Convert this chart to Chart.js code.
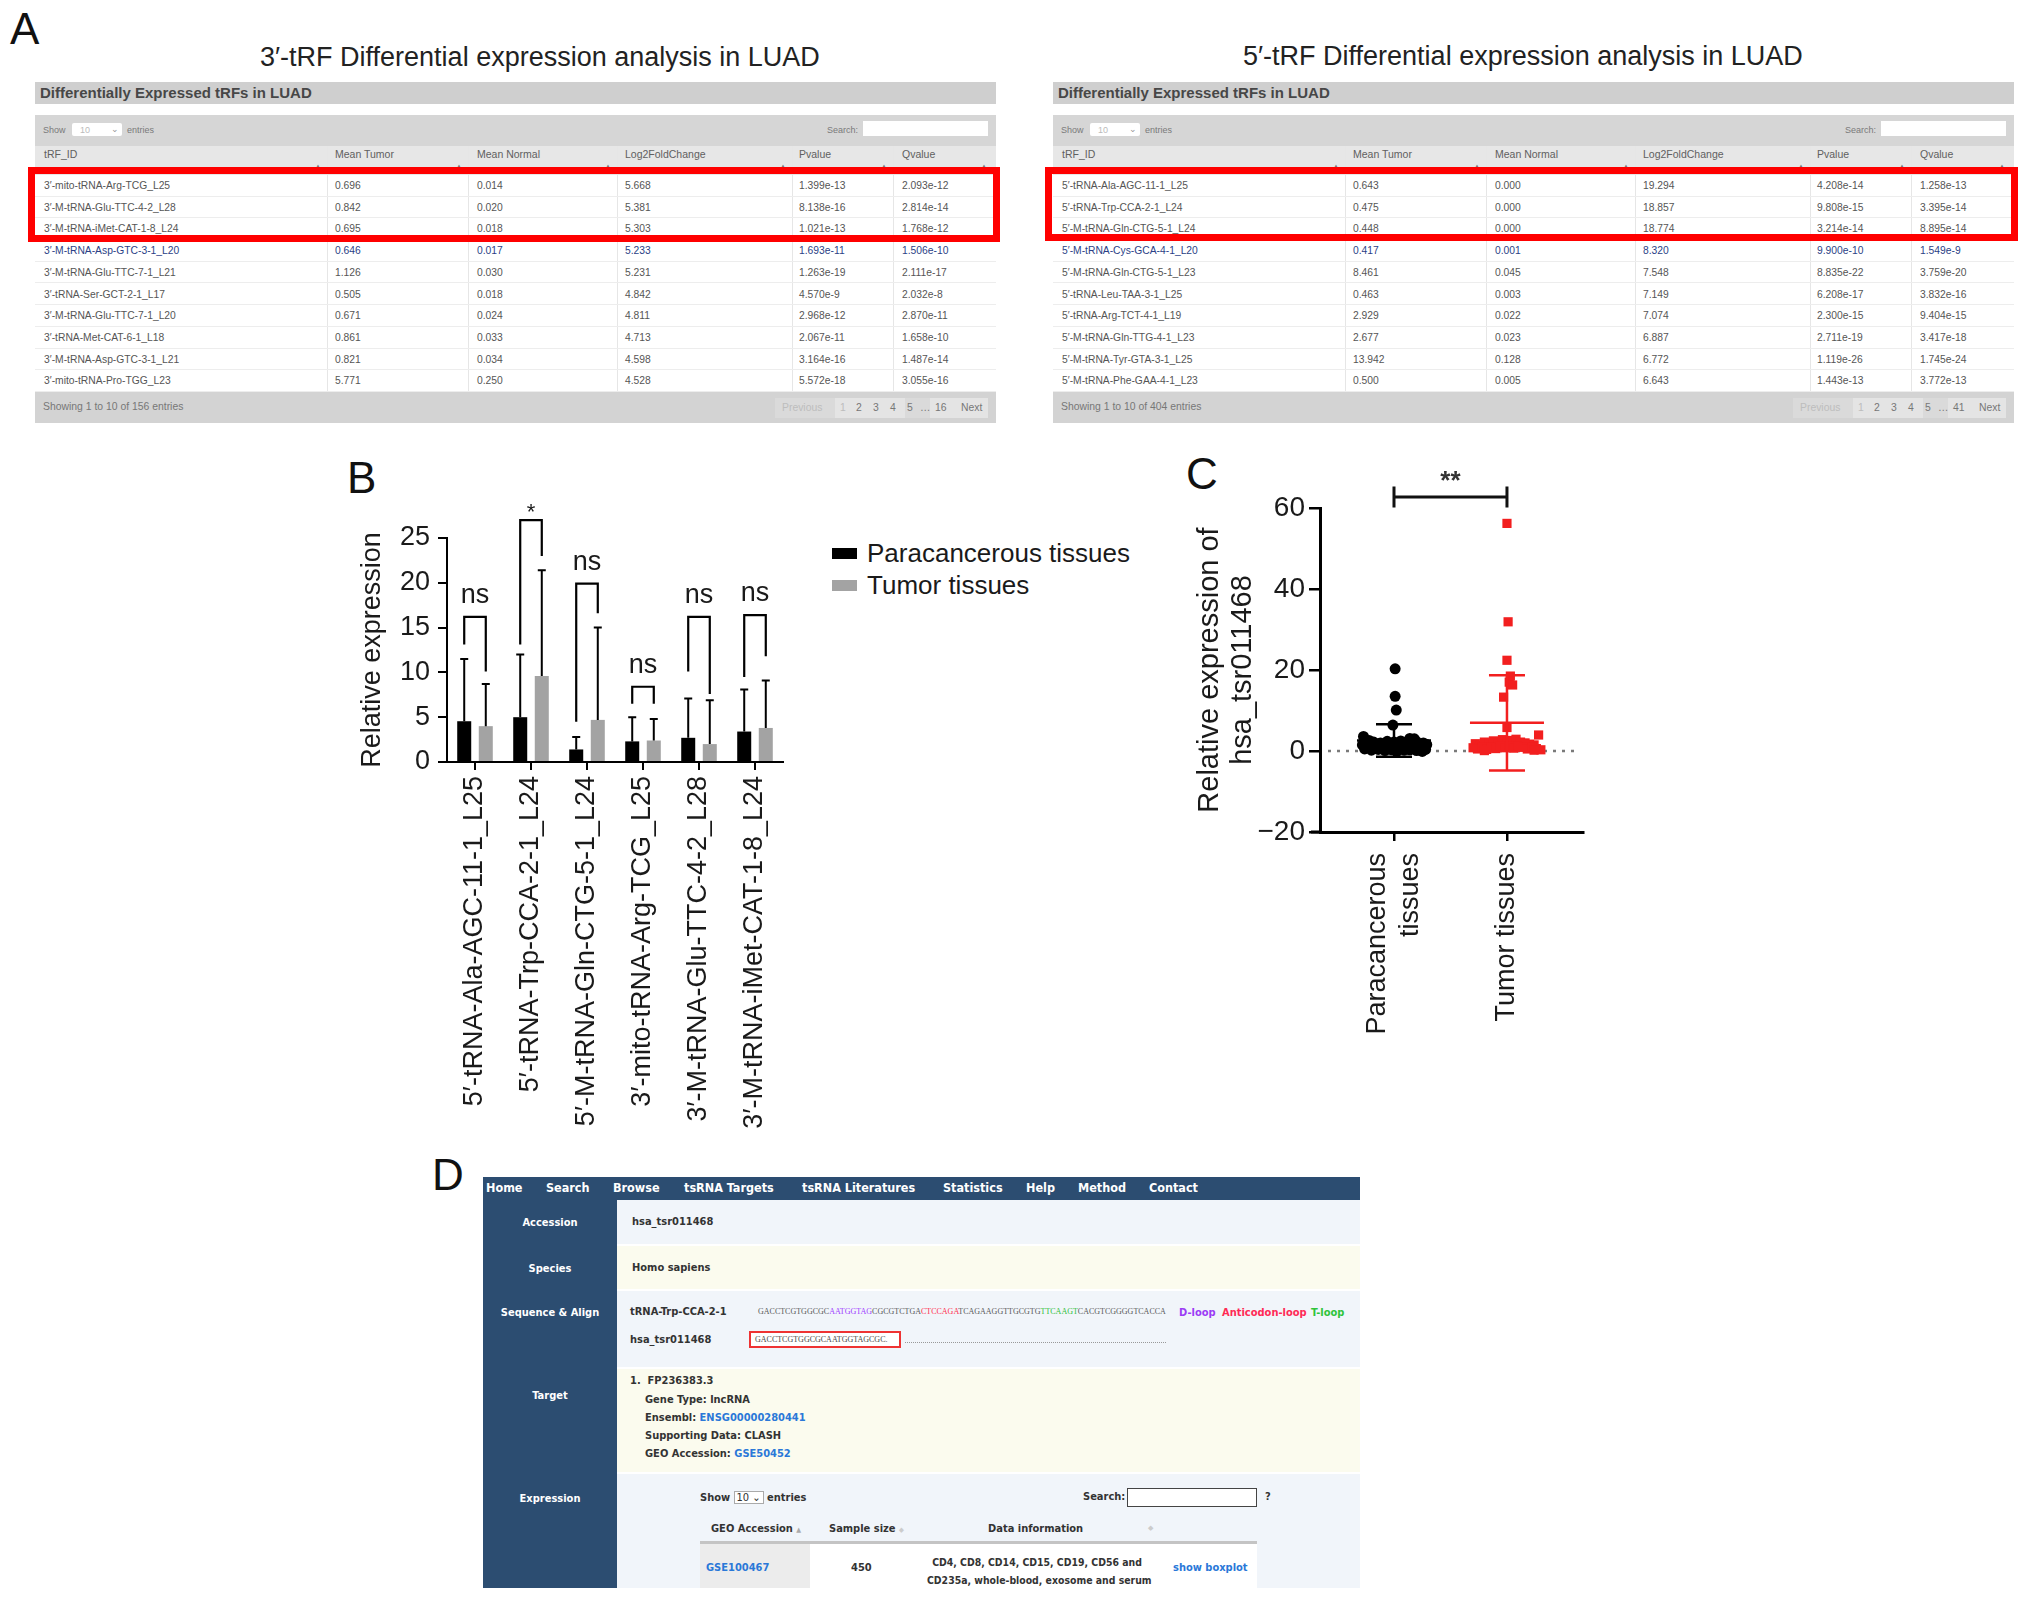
<!DOCTYPE html>
<html>
<head>
<meta charset="utf-8">
<script src="https://cdn.jsdelivr.net/npm/chart.js@4.4.1/dist/chart.umd.min.js"></script>
<style>
html, body { margin: 0; padding: 0; background: #fff; }
#page { position: relative; width: 2032px; height: 1601px; overflow: hidden; font-family: 'Liberation Sans', Arial, sans-serif; color: #1a1a1a; }
.abs { position: absolute; white-space: nowrap; line-height: 1; }
.letter { font-size: 44px; color: #111; }
.ptitle { font-size: 27px; color: #222; }
.tbl { position: absolute; top: 82px; width: 961px; height: 341px; color: #505050; }
.tb-title { position: absolute; left: 0; top: 0; width: 100%; height: 22px; background: #cfcfcf; font-weight: bold; font-size: 15px; color: #474747; line-height: 22px; text-indent: 5px; }
.tb-ctrl { position: absolute; left: 0; top: 33px; width: 100%; height: 31px; background: #d6d6d6; font-size: 9px; color: #7a7a7a; }
.tb-head { position: absolute; left: 0; top: 64px; width: 100%; height: 29px; background: #e7e7e7; font-size: 10.5px; color: #606060; }
.tb-body { position: absolute; left: 0; top: 93px; width: 100%; height: 217px; background: #fff; }
.tb-foot { position: absolute; left: 0; top: 310px; width: 100%; height: 31px; background: #d3d3d3; font-size: 10.4px; color: #777; }
.row { position: absolute; left: 0; width: 100%; height: 21.7px; border-bottom: 1px solid #ededed; box-sizing: border-box; font-size: 10.3px; color: #555; }
.row.hov { color: #2b3f86; }
.c { position: absolute; white-space: nowrap; line-height: 1; }
.vsep { position: absolute; top: -29px; width: 1px; height: 246px; background: #e6e6e6; }
.redbox { position: absolute; border: 7px solid #ff0000; box-sizing: border-box; }
.dk { font-family: 'DejaVu Sans Condensed', 'DejaVu Sans', sans-serif; font-stretch: condensed; font-weight: bold; }
.nav { color: #fff; font-size: 12.5px; }
.side { color: #fff; font-size: 11px; width: 134px; text-align: center; left: 483px; }
.dtx { font-size: 11px; color: #333; }
.lnk { color: #2a78d8; }
.seq { font-family: 'Liberation Serif', serif; font-size: 8px; }
</style>
</head>
<body>
<div id="page">
  <div class="abs letter" style="left:10px;top:7px">A</div>
  <div class="abs ptitle" style="left:260px;top:44px">3′-tRF Differential expression analysis in LUAD</div>
  <div class="abs ptitle" style="left:1243px;top:43px">5′-tRF Differential expression analysis in LUAD</div>

  <div class="abs letter" style="left:347px;top:456px">B</div>
  <canvas id="chartB" width="460" height="660" style="position:absolute;left:340px;top:480px"></canvas>

  <div class="abs letter" style="left:1186px;top:452px">C</div>
  <canvas id="chartC" width="420" height="600" style="position:absolute;left:1186px;top:460px"></canvas>

  <div class="abs letter" style="left:432px;top:1153px">D</div>
  <div id="panelD"></div>
</div>

<script>
// ---------- panel A tables
const leftIds = ["3′-mito-tRNA-Arg-TCG_L25", "3′-M-tRNA-Glu-TTC-4-2_L28", "3′-M-tRNA-iMet-CAT-1-8_L24", "3′-M-tRNA-Asp-GTC-3-1_L20", "3′-M-tRNA-Glu-TTC-7-1_L21", "3′-tRNA-Ser-GCT-2-1_L17", "3′-M-tRNA-Glu-TTC-7-1_L20", "3′-tRNA-Met-CAT-6-1_L18", "3′-M-tRNA-Asp-GTC-3-1_L21", "3′-mito-tRNA-Pro-TGG_L23"];
const leftMeanTumor = ["0.696", "0.842", "0.695", "0.646", "1.126", "0.505", "0.671", "0.861", "0.821", "5.771"];
const leftMeanNormal = ["0.014", "0.020", "0.018", "0.017", "0.030", "0.018", "0.024", "0.033", "0.034", "0.250"];
const leftLog2FC = ["5.668", "5.381", "5.303", "5.233", "5.231", "4.842", "4.811", "4.713", "4.598", "4.528"];
const leftPvalue = ["1.399e-13", "8.138e-16", "1.021e-13", "1.693e-11", "1.263e-19", "4.570e-9", "2.968e-12", "2.067e-11", "3.164e-16", "5.572e-18"];
const leftQvalue = ["2.093e-12", "2.814e-14", "1.768e-12", "1.506e-10", "2.111e-17", "2.032e-8", "2.870e-11", "1.658e-10", "1.487e-14", "3.055e-16"];

const rightIds = ["5′-tRNA-Ala-AGC-11-1_L25", "5′-tRNA-Trp-CCA-2-1_L24", "5′-M-tRNA-Gln-CTG-5-1_L24", "5′-M-tRNA-Cys-GCA-4-1_L20", "5′-M-tRNA-Gln-CTG-5-1_L23", "5′-tRNA-Leu-TAA-3-1_L25", "5′-tRNA-Arg-TCT-4-1_L19", "5′-M-tRNA-Gln-TTG-4-1_L23", "5′-M-tRNA-Tyr-GTA-3-1_L25", "5′-M-tRNA-Phe-GAA-4-1_L23"];
const rightMeanTumor = ["0.643", "0.475", "0.448", "0.417", "8.461", "0.463", "2.929", "2.677", "13.942", "0.500"];
const rightMeanNormal = ["0.000", "0.000", "0.000", "0.001", "0.045", "0.003", "0.022", "0.023", "0.128", "0.005"];
const rightLog2FC = ["19.294", "18.857", "18.774", "8.320", "7.548", "7.149", "7.074", "6.887", "6.772", "6.643"];
const rightPvalue = ["4.208e-14", "9.808e-15", "3.214e-14", "9.900e-10", "8.835e-22", "6.208e-17", "2.300e-15", "2.711e-19", "1.119e-26", "1.443e-13"];
const rightQvalue = ["1.258e-13", "3.395e-14", "8.895e-14", "1.549e-9", "3.759e-20", "3.832e-16", "9.404e-15", "3.417e-18", "1.745e-24", "3.772e-13"];

// ---------- panel B data
const bLabels = ["5′-tRNA-Ala-AGC-11-1_L25", "5′-tRNA-Trp-CCA-2-1_L24", "5′-M-tRNA-Gln-CTG-5-1_L24", "3′-mito-tRNA-Arg-TCG_L25", "3′-M-tRNA-Glu-TTC-4-2_L28", "3′-M-tRNA-iMet-CAT-1-8_L24"];
const paraMean = [4.55, 5.0, 1.4, 2.3, 2.7, 3.4];
const paraTop = [11.5, 12.0, 2.8, 5.0, 7.1, 8.1];
const tumorMean = [4.0, 9.6, 4.7, 2.4, 2.0, 3.8];
const tumorTop = [8.7, 21.4, 15.0, 4.8, 6.9, 9.1];
const sigText = ["ns", "*", "ns", "ns", "ns", "ns"];
const bracketTop = [16.2, 27.0, 19.9, 8.4, 16.2, 16.4];
const bracketLeftEnd = [13.1, 13.1, 4.5, 6.5, 10.1, 9.5];
const bracketRightEnd = [10.1, 23.0, 16.6, 6.5, 7.6, 11.8];

// ---------- panel C data
const cLabels = [["Paracancerous", "tissues"], ["Tumor tissues"]];
const paraOffsets = [0.01, 0.01, 0.02, -0.01, -0.27, 0.14, 0.18, -0.22, -0.18, -0.12, -0.06, 0.0, 0.06, 0.1, 0.2, 0.26, 0.29, -0.28, -0.24, -0.2, -0.15, -0.1, -0.05, 0.0, 0.04, 0.08, 0.12, 0.16, 0.2, 0.24, 0.28, -0.26, -0.2, -0.14, -0.08, -0.02, 0.03, 0.09, 0.14, 0.2, 0.25];
const paraValues = [20.3, 13.5, 10.1, 6.4, 3.6, 3.1, 3.0, 2.6, 2.2, 2.0, 2.4, 2.2, 2.5, 2.1, 2.3, 2.0, 1.6, 1.5, 1.2, 0.9, 1.4, 1.0, 0.7, 1.3, 0.9, 1.5, 1.0, 0.6, 1.2, 0.8, 0.4, 0.5, 0.2, 0.4, 0.1, 0.3, 0.0, 0.2, 0.3, 0.1, -0.1];
const tumorOffsets = [0.0, 0.01, 0.0, 0.03, 0.02, 0.05, -0.03, 0.0, 0.28, -0.28, -0.24, -0.2, -0.16, -0.12, -0.08, -0.04, 0.0, 0.04, 0.08, 0.12, 0.16, 0.2, 0.24, -0.3, -0.26, -0.22, -0.18, -0.14, -0.1, -0.06, -0.02, 0.02, 0.06, 0.1, 0.14, 0.18, 0.22, 0.26, 0.3, 0.24, -0.2];
const tumorValues = [56.2, 31.9, 22.4, 18.5, 17.0, 16.3, 13.3, 5.8, 3.95, 1.8, 1.4, 2.2, 1.9, 2.5, 2.0, 2.8, 2.3, 2.6, 2.9, 2.2, 2.0, 1.7, 1.5, 0.8, 0.5, 0.9, 0.4, 1.0, 0.6, 1.2, 0.8, 1.1, 0.7, 1.3, 0.9, 0.5, 1.0, 0.6, 0.3, 0.2, 0.1];
const cGroupX = [0, 1];
const cMean = [2.6, 7.0];
const cUpper = [6.6, 18.7];
const cLower = [-1.4, -4.8];
const cSig = [62.7, 2.6]; // bracket level, half height of end bars
const cColors = ['#000000', '#f21f1f'];

Chart.defaults.font.family = "'Liberation Sans', Arial, sans-serif";
Chart.defaults.color = '#1a1a1a';

function buildTable(left, ids, meanT, meanN, lfc, pv, qv, total, lastPage) {
	const colX = [9, 300, 442, 590, 764, 867];
	const sepX = [292, 433, 582, 757, 858];
	const heads = ['tRF_ID', 'Mean Tumor', 'Mean Normal', 'Log2FoldChange', 'Pvalue', 'Qvalue'];
	const arrowX = [280, 421, 570, 745, 846, 946];
	let h = '<div class="tb-title">Differentially Expressed tRFs in LUAD</div>';
	h += '<div class="tb-ctrl">'
		+ '<span class="c" style="left:8px;top:11px">Show</span>'
		+ '<div class="c" style="left:37px;top:8px;width:50px;height:13px;background:#fff;border-radius:2px"></div>'
		+ '<span class="c" style="left:45px;top:11px;color:#bbb">10</span>'
		+ '<span class="c" style="left:76px;top:10px;color:#999">⌄</span>'
		+ '<span class="c" style="left:92px;top:11px">entries</span>'
		+ '<span class="c" style="left:792px;top:11px">Search:</span>'
		+ '<div class="c" style="left:828px;top:6px;width:125px;height:15px;background:#fff"></div>'
		+ '</div>';
	h += '<div class="tb-head">';
	heads.forEach((t, i) => {
		h += `<span class="c" style="left:${colX[i]}px;top:3px">${t}</span>`;
		h += `<span class="c" style="left:${arrowX[i]}px;top:17px;font-size:6px;color:#777">▲</span>`;
	});
	h += '</div><div class="tb-body">';
	sepX.forEach(x => { h += `<div class="vsep" style="left:${x}px"></div>`; });
	for (let r = 0; r < ids.length; r++) {
		const cells = [ids[r], meanT[r], meanN[r], lfc[r], pv[r], qv[r]];
		h += `<div class="row${r === 3 ? ' hov' : ''}" style="top:${(r * 21.7).toFixed(1)}px">`;
		cells.forEach((c, i) => { h += `<span class="c" style="left:${colX[i]}px;top:6px">${c}</span>`; });
		h += '</div>';
	}
	h += '</div><div class="tb-foot">'
		+ `<span class="c" style="left:8px;top:10px">Showing 1 to 10 of ${total} entries</span>`
		+ '<div class="c" style="left:740px;top:6px;width:213px;height:20px;background:#dadada"></div>'
		+ '<div class="c" style="left:800px;top:6px;width:70px;height:20px;background:#e4e4e4"></div>'
		+ '<div class="c" style="left:895px;top:6px;width:58px;height:20px;background:#e4e4e4"></div>'
		+ '<span class="c" style="left:747px;top:11px;color:#bdbdbd">Previous</span>'
		+ '<span class="c" style="left:805px;top:11px;color:#bdbdbd">1</span>'
		+ '<span class="c" style="left:821px;top:11px">2</span>'
		+ '<span class="c" style="left:838px;top:11px">3</span>'
		+ '<span class="c" style="left:855px;top:11px">4</span>'
		+ '<span class="c" style="left:872px;top:11px">5</span>'
		+ '<span class="c" style="left:885px;top:11px">…</span>'
		+ `<span class="c" style="left:900px;top:11px">${lastPage}</span>`
		+ '<span class="c" style="left:926px;top:11px">Next</span>'
		+ '</div>';
	const t = document.createElement('div');
	t.className = 'tbl';
	t.style.left = left + 'px';
	t.innerHTML = h;
	window.page.appendChild(t);
}

function addRedBox(x, y, w, hgt) {
	const b = document.createElement('div');
	b.className = 'redbox';
	b.style.cssText = `left:${x}px;top:${y}px;width:${w}px;height:${hgt}px`;
	window.page.appendChild(b);
}

buildTable(35, leftIds, leftMeanTumor, leftMeanNormal, leftLog2FC, leftPvalue, leftQvalue, 156, 16);
buildTable(1053, rightIds, rightMeanTumor, rightMeanNormal, rightLog2FC, rightPvalue, rightQvalue, 404, 41);
addRedBox(28, 167, 972, 75);
addRedBox(1045, 167, 973, 74);

// ---------- panel B
const bExtras = {
	id: 'bExtras',
	afterDatasetsDraw(chart) {
		const ctx = chart.ctx;
		const y = chart.scales.y;
		const m0 = chart.getDatasetMeta(0).data;
		const m1 = chart.getDatasetMeta(1).data;
		ctx.save();
		ctx.strokeStyle = '#000';
		ctx.lineWidth = 2;
		[[m0, paraTop], [m1, tumorTop]].forEach(([bars, tops]) => {
			bars.forEach((bar, i) => {
				const t = y.getPixelForValue(tops[i]);
				ctx.beginPath();
				ctx.moveTo(bar.x, bar.y);
				ctx.lineTo(bar.x, t);
				ctx.moveTo(bar.x - 4, t);
				ctx.lineTo(bar.x + 4, t);
				ctx.stroke();
			});
		});
		ctx.lineWidth = 2.2;
		ctx.fillStyle = '#1a1a1a';
		ctx.textAlign = 'center';
		for (let i = 0; i < bLabels.length; i++) {
			const xl = m0[i].x, xr = m1[i].x;
			const yt = y.getPixelForValue(bracketTop[i]);
			ctx.beginPath();
			ctx.moveTo(xl, y.getPixelForValue(bracketLeftEnd[i]));
			ctx.lineTo(xl, yt);
			ctx.lineTo(xr, yt);
			ctx.lineTo(xr, y.getPixelForValue(bracketRightEnd[i]));
			ctx.stroke();
			if (sigText[i] === '*') {
				ctx.font = "22px 'Liberation Sans', Arial";
				ctx.fillText(sigText[i], (xl + xr) / 2, yt - 1);
			} else {
				ctx.font = "27px 'Liberation Sans', Arial";
				ctx.fillText(sigText[i], (xl + xr) / 2, yt - 14);
			}
		}
		ctx.restore();
	}
};

const chartB = new Chart(document.getElementById('chartB'), {
	type: 'bar',
	data: {
		labels: bLabels,
		datasets: [
			{ label: 'Paracancerous tissues', data: paraMean, backgroundColor: '#000000', barPercentage: 0.65, categoryPercentage: 0.77 },
			{ label: 'Tumor tissues', data: tumorMean, backgroundColor: '#a3a3a3', barPercentage: 0.65, categoryPercentage: 0.77 }
		]
	},
	options: {
		responsive: false,
		animation: false,
		layout: { padding: { top: 58, right: 17, left: 0, bottom: 0 } },
		plugins: { legend: { display: false }, tooltip: { enabled: false } },
		scales: {
			x: {
				offset: true,
				grid: { drawOnChartArea: false, offset: false, tickLength: 8, color: '#000', lineWidth: 2 },
				border: { color: '#000', width: 2 },
				ticks: { font: { size: 27 }, color: '#1a1a1a', minRotation: 90, maxRotation: 90, padding: 6, autoSkip: false },
				afterFit(s) { s.height = 378; }
			},
			y: {
				min: 0, max: 25,
				ticks: { stepSize: 5, font: { size: 27 }, color: '#1a1a1a', padding: 8 },
				grid: { drawOnChartArea: false, tickLength: 9, color: '#000', lineWidth: 2 },
				border: { color: '#000', width: 2 },
				title: { display: true, text: 'Relative expression', font: { size: 27 }, color: '#1a1a1a', padding: { top: 16 } },
				afterFit(s) { s.width = 107; }
			}
		}
	},
	plugins: [bExtras]
});

// legend for B, built from the chart's own datasets
chartB.data.datasets.forEach((ds, i) => {
	const box = document.createElement('div');
	box.className = 'abs';
	box.style.cssText = `left:832px;top:${548 + i * 32}px;width:25px;height:11px;background:${ds.backgroundColor}`;
	window.page.appendChild(box);
	const txt = document.createElement('div');
	txt.className = 'abs';
	txt.style.cssText = `left:867px;top:${540 + i * 32}px;font-size:26px;color:#1a1a1a`;
	txt.textContent = ds.label;
	window.page.appendChild(txt);
});

// ---------- panel C
const cExtras = {
	id: 'cExtras',
	beforeDatasetsDraw(chart) {
		const { ctx, chartArea: a, scales: { y } } = chart;
		const y0 = y.getPixelForValue(0);
		ctx.save();
		ctx.strokeStyle = '#7a7a7a';
		ctx.lineWidth = 2.5;
		ctx.setLineDash([3, 6]);
		ctx.beginPath();
		ctx.moveTo(a.left + 8, y0);
		ctx.lineTo(a.right - 4, y0);
		ctx.stroke();
		ctx.restore();
	},
	afterDatasetsDraw(chart) {
		const { ctx, scales: { x, y } } = chart;
		ctx.save();
		ctx.lineWidth = 2.5;
		cGroupX.forEach((gx, i) => {
			const px = x.getPixelForValue(gx);
			const yu = y.getPixelForValue(cUpper[i]);
			const yl = y.getPixelForValue(cLower[i]);
			const ym = y.getPixelForValue(cMean[i]);
			ctx.strokeStyle = cColors[i];
			ctx.beginPath();
			ctx.moveTo(px, yu); ctx.lineTo(px, yl);
			ctx.moveTo(px - 18, yu); ctx.lineTo(px + 18, yu);
			ctx.moveTo(px - 18, yl); ctx.lineTo(px + 18, yl);
			ctx.moveTo(px - 37, ym); ctx.lineTo(px + 37, ym);
			ctx.stroke();
		});
		const x0 = x.getPixelForValue(cGroupX[0]);
		const x1 = x.getPixelForValue(cGroupX[1]);
		const ys = y.getPixelForValue(cSig[0]);
		const ya = y.getPixelForValue(cSig[0] + cSig[1]);
		const yb = y.getPixelForValue(cSig[0] - cSig[1]);
		ctx.strokeStyle = '#111';
		ctx.lineWidth = 3;
		ctx.beginPath();
		ctx.moveTo(x0, ys); ctx.lineTo(x1, ys);
		ctx.moveTo(x0, ya); ctx.lineTo(x0, yb);
		ctx.moveTo(x1, ya); ctx.lineTo(x1, yb);
		ctx.stroke();
		ctx.fillStyle = '#333';
		ctx.font = "bold 26px 'Liberation Sans', Arial";
		ctx.textAlign = 'center';
		ctx.fillText('**', (x0 + x1) / 2, ya + 2);
		ctx.restore();
	},
	afterDraw(chart) {
		// category labels, rotated, lines centred on each tick
		const { ctx, chartArea: a, scales: { x } } = chart;
		ctx.save();
		ctx.font = "27px 'Liberation Sans', Arial";
		ctx.fillStyle = '#1a1a1a';
		ctx.textAlign = 'right';
		ctx.textBaseline = 'middle';
		// short stub of the x axis left of the y axis
		ctx.strokeStyle = '#000';
		ctx.lineWidth = 3;
		ctx.beginPath();
		ctx.moveTo(a.left - 9, a.bottom);
		ctx.lineTo(a.left, a.bottom);
		ctx.stroke();
		cGroupX.forEach((gx, i) => {
			const px = x.getPixelForValue(gx);
			const lines = cLabels[i];
			lines.forEach((t, j) => {
				const cx = px + (j - (lines.length - 1) / 2) * 33;
				ctx.save();
				ctx.translate(cx, a.bottom + 21);
				ctx.rotate(-Math.PI / 2);
				ctx.fillText(t, 0, 0);
				ctx.restore();
			});
		});
		ctx.restore();
	}
};

new Chart(document.getElementById('chartC'), {
	type: 'scatter',
	data: {
		datasets: [
			{
				label: 'Paracancerous tissues',
				data: paraValues.map((v, i) => ({ x: cGroupX[0] + paraOffsets[i], y: v })),
				pointStyle: 'circle', pointRadius: 5.5, backgroundColor: cColors[0], borderWidth: 0
			},
			{
				label: 'Tumor tissues',
				data: tumorValues.map((v, i) => ({ x: cGroupX[1] + tumorOffsets[i], y: v })),
				pointStyle: 'rect', pointRadius: 6.5, backgroundColor: cColors[1], borderWidth: 0
			}
		]
	},
	options: {
		responsive: false,
		animation: false,
		layout: { padding: { top: 48, right: 23, left: 0, bottom: 0 } },
		plugins: { legend: { display: false }, tooltip: { enabled: false } },
		scales: {
			x: {
				type: 'linear', min: -0.655, max: 1.673,
				afterBuildTicks(s) { s.ticks = cGroupX.map(v => ({ value: v })); },
				grid: { drawOnChartArea: false, tickLength: 9, color: '#000', lineWidth: 2.5 },
				border: { color: '#000', width: 3 },
				ticks: { display: false },
				afterFit(s) { s.height = 228; }
			},
			y: {
				min: -20, max: 60,
				ticks: { stepSize: 20, font: { size: 28 }, color: '#1a1a1a', padding: 4, callback: v => String(v).replace('-', '−') },
				grid: { drawOnChartArea: false, tickLength: 11, color: '#000', lineWidth: 2.5 },
				border: { color: '#000', width: 3 },
				title: { display: true, text: ['Relative expression of', 'hsa_tsr011468'], font: { size: 29, lineHeight: 1.14 }, color: '#1a1a1a', padding: { top: 7 } },
				afterFit(s) { s.width = 134; }
			}
		}
	},
	plugins: [cExtras]
});

// ---------- panel D (database page screenshot)
const navItems = ['Home', 'Search', 'Browse', 'tsRNA Targets', 'tsRNA Literatures', 'Statistics', 'Help', 'Method', 'Contact'];
const navX = [486, 546, 613, 684, 802, 943, 1026, 1078, 1149];
const sideItems = ['Accession', 'Species', 'Sequence &amp; Align', 'Target', 'Expression'];
const sideY = [1222, 1268, 1312, 1395, 1498];
const seqParts = [['GACCTCGTGGCGC', '#5a5a5a'], ['AATGGTAG', '#a040ff'], ['CGCGTCTGA', '#5a5a5a'], ['CTCCAGA', '#ff3050'], ['TCAGAAGGTTGCGTG', '#5a5a5a'], ['TTCAAGT', '#30c040'], ['CACGTCGGGGTCACCA', '#5a5a5a']];

let d = '';
d += '<div class="abs" style="left:483px;top:1177px;width:877px;height:23px;background:#2c4d71"></div>';
navItems.forEach((t, i) => { d += `<div class="abs dk nav" style="left:${navX[i]}px;top:1182px">${t}</div>`; });
d += '<div class="abs" style="left:483px;top:1200px;width:134px;height:388px;background:#2c4d71"></div>';
[[1200, 44, '#f1f5fa'], [1246, 43, '#fbfbee'], [1291, 76, '#f1f5fa'], [1369, 103, '#fbfbee'], [1474, 114, '#f1f5fa']].forEach(r => {
	d += `<div class="abs" style="left:617px;top:${r[0]}px;width:743px;height:${r[1]}px;background:${r[2]}"></div>`;
});
sideItems.forEach((t, i) => { d += `<div class="abs dk side" style="top:${sideY[i] - 5}px">${t}</div>`; });
d += '<div class="abs dk dtx" style="left:632px;top:1216px">hsa_tsr011468</div>';
d += '<div class="abs dk dtx" style="left:632px;top:1262px">Homo sapiens</div>';
d += '<div class="abs dk dtx" style="left:630px;top:1306px">tRNA-Trp-CCA-2-1</div>';
d += '<div class="abs seq" style="left:758px;top:1308px">' + seqParts.map(p => `<span style="color:${p[1]}">${p[0]}</span>`).join('') + '</div>';
d += '<div class="abs dk" style="left:1179px;top:1307px;font-size:11px;color:#9b3cf5">D-loop</div>';
d += '<div class="abs dk" style="left:1222px;top:1307px;font-size:11px;color:#ff2a55">Anticodon-loop</div>';
d += '<div class="abs dk" style="left:1311px;top:1307px;font-size:11px;color:#2fc43a">T-loop</div>';
d += '<div class="abs dk dtx" style="left:630px;top:1334px">hsa_tsr011468</div>';
d += '<div class="abs" style="left:749px;top:1331px;width:152px;height:17px;border:2px solid #e33;box-sizing:border-box;background:#fff"></div>';
d += '<div class="abs seq" style="left:755px;top:1336px;color:#4a4a4a">GACCTCGTGGCGCAATGGTAGCGC.</div>';
d += '<div class="abs" style="left:905px;top:1342px;width:261px;border-top:1.5px dotted #999"></div>';
d += '<div class="abs dk dtx" style="left:630px;top:1375px">1.&nbsp; FP236383.3</div>';
d += '<div class="abs dk dtx" style="left:645px;top:1394px">Gene Type: lncRNA</div>';
d += '<div class="abs dk dtx" style="left:645px;top:1412px">Ensembl: <span class="lnk">ENSG00000280441</span></div>';
d += '<div class="abs dk dtx" style="left:645px;top:1430px">Supporting Data: CLASH</div>';
d += '<div class="abs dk dtx" style="left:645px;top:1448px">GEO Accession: <span class="lnk">GSE50452</span></div>';
d += '<div class="abs dk dtx" style="left:700px;top:1491px">Show <span style="display:inline-block;border:1px solid #aaa;background:#fff;padding:0 2px;font-weight:normal">10 ⌄</span> entries</div>';
d += '<div class="abs dk dtx" style="left:1083px;top:1491px">Search:</div>';
d += '<div class="abs" style="left:1127px;top:1488px;width:130px;height:19px;border:1px solid #444;box-sizing:border-box;background:#fff"></div>';
d += '<div class="abs dk dtx" style="left:1265px;top:1491px">?</div>';
d += '<div class="abs dk dtx" style="left:711px;top:1523px">GEO Accession <span style="color:#aaa;font-size:7px">▲</span></div>';
d += '<div class="abs dk dtx" style="left:829px;top:1523px">Sample size <span style="color:#ccc;font-size:7px">◆</span></div>';
d += '<div class="abs dk dtx" style="left:988px;top:1523px">Data information</div>';
d += '<div class="abs" style="left:1148px;top:1524px;font-size:7px;color:#ccc">◆</div>';
d += '<div class="abs" style="left:700px;top:1541px;width:557px;height:3px;background:#c4c4c4"></div>';
d += '<div class="abs" style="left:700px;top:1544px;width:557px;height:44px;background:#fff"></div>';
d += '<div class="abs" style="left:700px;top:1544px;width:110px;height:44px;background:#ececec"></div>';
d += '<div class="abs dk dtx" style="left:706px;top:1562px"><span class="lnk">GSE100467</span></div>';
d += '<div class="abs dk dtx" style="left:851px;top:1562px">450</div>';
d += '<div class="abs dk" style="left:927px;top:1553px;width:220px;text-align:center;line-height:18px;font-size:10.4px;color:#333">CD4, CD8, CD14, CD15, CD19, CD56 and<br>CD235a, whole-blood, exosome and serum</div>';
d += '<div class="abs dk dtx" style="left:1173px;top:1562px"><span class="lnk">show boxplot</span></div>';
window.panelD.innerHTML = d;
</script>
</body>
</html>
